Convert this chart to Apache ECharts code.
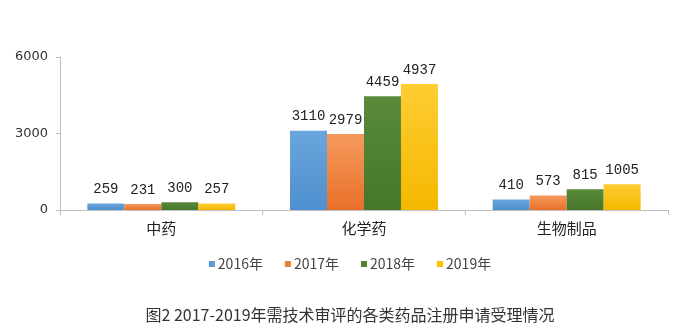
<!DOCTYPE html>
<html><head><meta charset="utf-8">
<script src="https://cdn.jsdelivr.net/npm/echarts@6/dist/echarts.min.js"></script>
<style>html,body{margin:0;padding:0;background:#fff}#c{width:700px;height:335px}</style>
</head><body><div id="c"></div>
<script>
const categories = ['中药', '化学药', '生物制品'];
const years = ['2016年', '2017年', '2018年', '2019年'];
const v2016 = [259, 3110, 410];
const v2017 = [231, 2979, 573];
const v2018 = [300, 4459, 815];
const v2019 = [257, 4937, 1005];
const yTicks = [0, 3000, 6000];
const titleText = '图2 2017-2019年需技术审评的各类药品注册申请受理情况';

const colors = [
  ['#6aa6dd', '#4f8fcf'],
  ['#f59a5c', '#e8702a'],
  ['#5a8a3a', '#46772a'],
  ['#ffcd33', '#f5b800']
];
const legendColors = ['#5b9bd5', '#ed7d31', '#548235', '#ffc000'];
const allData = [v2016, v2017, v2018, v2019];

const chart = echarts.init(document.getElementById('c'));
chart.setOption({
  animation: false,
  title: {
    text: titleText, left: 'center', top: 302,
    textStyle: { fontFamily: 'Noto Sans CJK SC', fontSize: 16, fontWeight: 'normal', color: '#333' }
  },
  legend: {
    top: 252, left: 'center', itemWidth: 6, itemHeight: 6, itemGap: 22, icon: 'rect',
    textStyle: { fontFamily: 'Noto Sans CJK SC', fontSize: 14, color: '#444', padding: [0,0,0,-2] },
    data: years.map((y, i) => ({ name: y, itemStyle: { color: legendColors[i] } }))
  },
  grid: { left: 60, right: 32, top: 57, bottom: 125 },
  xAxis: {
    type: 'category', data: categories,
    axisLine: { lineStyle: { color: '#bfbfbf' } },
    axisTick: { show: true, length: 5, lineStyle: { color: '#bfbfbf' } },
    axisLabel: { fontFamily: 'Noto Sans CJK SC', fontSize: 15, color: '#222', margin: 11 }
  },
  yAxis: {
    type: 'value', min: 0, max: 6000, interval: 3000,
    axisLine: { show: true, lineStyle: { color: '#bfbfbf' } },
    axisTick: { show: true, length: 4, lineStyle: { color: '#bfbfbf' } },
    splitLine: { show: false },
    axisLabel: { fontFamily: 'DejaVu Sans', fontSize: 13, color: '#333', margin: 12,
      formatter: v => yTicks.includes(v) ? String(v) : '' }
  },
  series: allData.map((d, i) => ({
    name: years[i], type: 'bar', data: d,
    barGap: '0%', barCategoryGap: '27%',
    itemStyle: { color: new echarts.graphic.LinearGradient(0, 0, 0, 1, [
      { offset: 0, color: colors[i][0] }, { offset: 1, color: colors[i][1] }]) },
    label: { show: true, position: 'top', distance: 7,
      fontFamily: 'Liberation Mono', fontSize: 14, color: '#222' }
  }))
});
</script></body></html>
